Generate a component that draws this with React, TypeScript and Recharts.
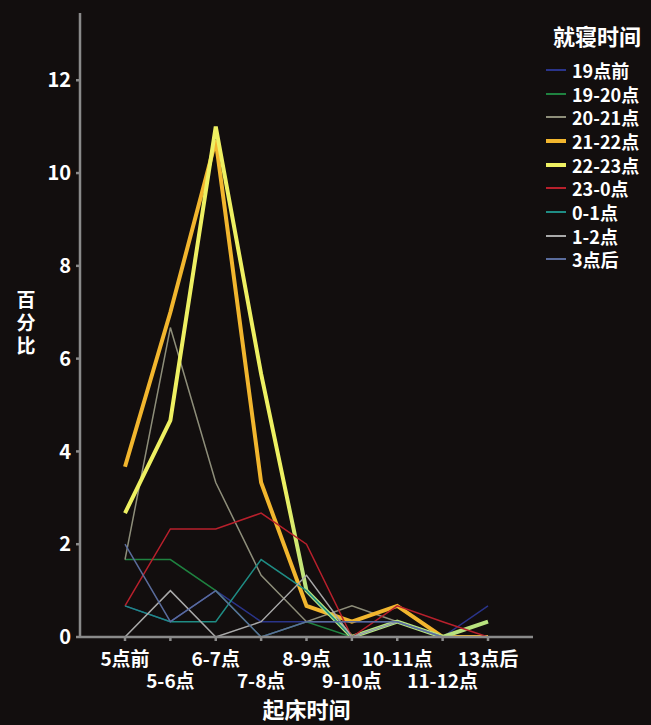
import React from 'react';
import { LineChart, Line, XAxis, YAxis } from 'recharts';

const categories = ['5点前', '5-6点', '6-7点', '7-8点', '8-9点', '9-10点', '10-11点', '11-12点', '13点后'];

// 就寝时间 series (percent)
const before19 = [0.67, 0.33, 1.0, 0.33, 0.33, 0.33, 0.33, 0, 0.67];
const h19to20 = [1.67, 1.67, 1.0, 0, 0.33, 0, 0.33, 0, 0.33];
const h20to21 = [1.67, 6.67, 3.33, 1.33, 0.33, 0.67, 0.33, 0, 0];
const h21to22 = [3.67, 7.0, 10.7, 3.33, 0.67, 0.33, 0.67, 0, 0];
const h22to23 = [2.67, 4.67, 11.0, 5.67, 1.0, 0, 0.33, 0, 0.33];
const h23to0 = [0.67, 2.33, 2.33, 2.67, 2.0, 0, 0.67, 0.33, 0];
const h0to1 = [0.67, 0.33, 0.33, 1.67, 1.0, 0, 0.33, 0, 0];
const h1to2 = [0, 1.0, 0, 0.33, 1.33, 0, 0.33, 0, 0];
const after3 = [2.0, 0.33, 1.0, 0, 0.33, 0.33, 0.33, 0, 0];

const yTicks = [0, 2, 4, 6, 8, 10, 12];

const series = [
  { name: '19点前', values: before19, color: '#2a348a', width: 1.5 },
  { name: '19-20点', values: h19to20, color: '#1f8240', width: 1.5 },
  { name: '20-21点', values: h20to21, color: '#8e8e7a', width: 1.5 },
  { name: '21-22点', values: h21to22, color: '#f2b62e', width: 4 },
  { name: '22-23点', values: h22to23, color: '#eef062', width: 4 },
  { name: '23-0点', values: h23to0, color: '#b8202c', width: 1.5 },
  { name: '0-1点', values: h0to1, color: '#1f8c84', width: 1.5 },
  { name: '1-2点', values: h1to2, color: '#a9a9a9', width: 1.5 },
  { name: '3点后', values: after3, color: '#5a6c9c', width: 1.5 },
];

const data = categories.map((c, i) => {
  const row: Record<string, string | number> = { name: c };
  series.forEach((s) => {
    row[s.name] = s.values[i];
  });
  return row;
});

const FONT = '"Noto Sans CJK SC", "Noto Sans", sans-serif';
const BG = '#120e0e';

const XTick = (props: any) => {
  const { x, y, payload, index } = props;
  return (
    <text
      x={x}
      y={y + (index % 2 === 0 ? 23 : 45)}
      textAnchor="middle"
      fill="#ffffff"
      fontSize={19}
      fontWeight={700}
      fontFamily={FONT}
    >
      {payload.value}
    </text>
  );
};

const YTitle = () => (
  <text x={26} fill="#ffffff" fontSize={19} fontWeight={700} fontFamily={FONT} textAnchor="middle">
    <tspan x={26} y={307}>百</tspan>
    <tspan x={26} y={330}>分</tspan>
    <tspan x={26} y={353}>比</tspan>
  </text>
);

const App: React.FC = () => {
  return (
    <div style={{ position: 'relative', width: 651, height: 725, background: BG, fontFamily: FONT, overflow: 'hidden' }}>
      <style>{`body{margin:0;background:${BG};}`}</style>
      <LineChart width={651} height={725} data={data} margin={{ top: 13, right: 118, bottom: 0, left: 0 }}>
        <defs>
          <linearGradient id="lateGrad" x1="0" y1="0" x2="1" y2="0">
            <stop offset="0.44" stopColor="#eef062" />
            <stop offset="0.5" stopColor="#b8e27e" />
          </linearGradient>
        </defs>
        <XAxis
          dataKey="name"
          height={88}
          padding={{ left: 45, right: 45 }}
          stroke="#8a8a8a"
          strokeWidth={2.5}
          tickSize={4}
          interval={0}
          tick={<XTick />}
          label={{
            value: '起床时间',
            position: 'insideBottom',
            offset: 7,
            fill: '#ffffff',
            fontSize: 22,
            fontWeight: 700,
            fontFamily: FONT,
          }}
        />
        <YAxis
          width={80}
          domain={[0, 13.45]}
          ticks={yTicks}
          allowDataOverflow
          stroke="#8a8a8a"
          strokeWidth={2.5}
          tickSize={4}
          tickMargin={5}
          tick={{ fill: '#ffffff', fontSize: 20, fontWeight: 700, fontFamily: FONT }}
          label={{ content: <YTitle /> }}
        />
        {series.map((s) => (
          <Line
            key={s.name}
            type="linear"
            dataKey={s.name}
            stroke={s.name === '22-23点' ? 'url(#lateGrad)' : s.color}
            strokeWidth={s.width}
            dot={false}
            activeDot={false}
            isAnimationActive={false}
          />
        ))}
      </LineChart>
      <div style={{ position: 'absolute', left: 546, top: 20, color: '#ffffff', fontWeight: 700 }}>
        <div style={{ fontSize: 22, lineHeight: '30px', marginLeft: 7, marginBottom: 8 }}>就寝时间</div>
        {series.map((s) => (
          <div key={s.name} style={{ display: 'flex', alignItems: 'center', height: 23.7, fontSize: 18, lineHeight: '22px' }}>
            <div style={{ width: 20, height: s.width > 2 ? 4 : 2, background: s.color, marginRight: 6 }} />
            <span style={{ whiteSpace: 'nowrap' }}>{s.name}</span>
          </div>
        ))}
      </div>
    </div>
  );
};

export default App;
